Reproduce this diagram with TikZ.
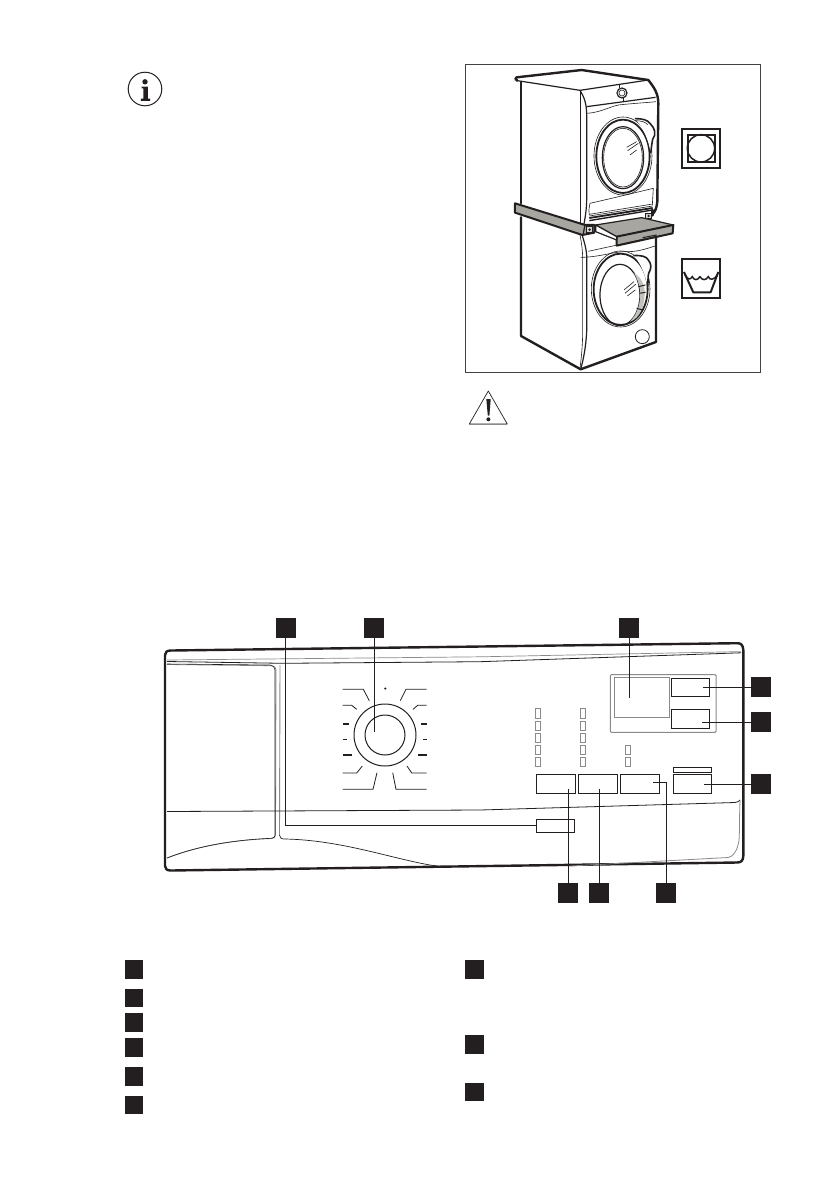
\documentclass[tikz,border=0pt]{standalone}
\definecolor{ink}{HTML}{231F20}
\definecolor{shelf}{HTML}{A8A6A0}
\definecolor{led}{HTML}{8A8A88}
\tikzset{
  x=1pt,y=-1pt,
  numbox/.style={fill=ink,draw=none,minimum size=20pt,inner sep=0pt,outer sep=0pt},
  legbox/.style={fill=ink,draw=none,minimum size=18.5pt,inner sep=0pt,outer sep=0pt},
  lead/.style={draw=ink,line width=0.9pt},
  btn/.style={draw=ink,line width=0.9pt},
  heavy/.style={draw=ink,line width=2.4pt,line join=round,line cap=round},
  med/.style={draw=ink,line width=1.2pt,line join=round},
  fine/.style={draw=ink,line width=0.6pt,line join=round},
  greyl/.style={draw=led,line width=0.8pt},
  mark1/.style={draw=ink,line width=0.8pt},
  mark2/.style={draw=ink,line width=1.4pt},
}
\begin{document}
\begin{tikzpicture}
\useasboundingbox[fill=white] (0,0) rectangle (840,1192);

% info icon
\draw[ink,line width=1pt] (145,89) circle (16.8);
\fill[ink] (145,81.8) circle (2.7);
\fill[ink] (141.5,86.5) -- (147.8,86.5) -- (147.8,98.5) -- (150,98.5) -- (150,100.8) -- (140.8,100.8) -- (140.8,98.5) -- (143.4,98.5) -- (143.4,88.4) -- (141.5,88.4) -- cycle;

% warning icon
\draw[ink,line width=0.7pt,line join=round] (488.3,391) -- (469.3,424) -- (507.3,424) -- cycle;
\draw[led,line width=1.6pt] (469.3,424.6) -- (507.3,424.6);
\fill[ink] (486.3,399) -- (490.7,399) -- (489.4,415.5) -- (487.8,415.5) -- cycle;
\fill[ink] (488.4,419.3) circle (2);

% photo frame
\draw[draw=ink!85,line width=0.9pt] (465.7,64.3) rectangle (760.3,372.3);

\begin{scope}[shift={(460,60)},x=0.3333pt,y=-0.3333pt]
  % dryer body
  \draw[heavy] (183,66) -- (183,430);
  \draw[heavy] (172,62) .. controls (165,60) and (164,54) .. (170,52) -- (365,30) -- (565,60) .. controls (582,82) and (595,100) .. (595,130) -- (592,425) .. controls (590,445) and (585,455) .. (578,462);
  \draw[med] (172,62) -- (360,91);
  \draw[med] (360,91) -- (565,60);
  \draw[fine] (360,91) -- (360,490);
  \draw[med] (360,91) .. controls (372,110) and (380,130) .. (380,165) -- (380,420) .. controls (380,445) and (376,470) .. (372,492);
  % control band
  \draw[med] (380,140) -- (587,112);
  \draw[fine] (380,160) .. controls (420,158) and (450,140) .. (475,135) .. controls (520,130) and (560,128) .. (588,125);
  % knob
  \draw[med] (486,99) circle (15);
  \draw[fine] (486,99) circle (9);
  \draw[fine] (478,72) -- (478,84);
  \draw[fine] (490,114) -- (490,125);
  % dryer door
  \draw[fine] (489,288) ellipse [x radius=87,y radius=117];
  \draw[ink,line width=1.8pt] (489,289) ellipse [x radius=80,y radius=110];
  \draw[med] (489,293) ellipse [x radius=62,y radius=93];
  \draw[fine] (489,293) ellipse [x radius=58,y radius=88];
  \fill[white] (525,176) .. controls (550,176) and (562,180) .. (570,190) .. controls (585,205) and (590,222) .. (578,238) .. controls (575,250) and (575,260) .. (572,280) .. controls (566,235) and (545,195) .. (525,176) -- cycle;
  \draw[ink,line width=1.6pt] (525,176) .. controls (550,176) and (562,180) .. (570,190) .. controls (585,205) and (590,222) .. (578,238) .. controls (575,250) and (575,260) .. (572,280);
  \draw[fine] (525,182) .. controls (545,182) and (556,186) .. (563,194);
  \draw[fine] (500,262) -- (530,245);
  \draw[fine] (503,272) -- (535,250);
  \draw[fine] (510,285) -- (530,270);
  % lower dryer panel
  \draw[fine] (390,430) .. controls (386,450) and (386,455) .. (388,465);
  \draw[fine] (390,430) -- (455,415) -- (580,385) -- (577,435);
  \draw[ink,line width=0.6pt] (388,463) -- (578,432);
  \draw[ink,line width=0.6pt] (388,468) -- (578,438);
  \draw[ink,line width=1.8pt] (388,474) -- (578,444);
  \draw[ink,line width=1.4pt] (388,482) -- (578,450);
  \draw[heavy] (578,450) -- (578,466);
  % shelf left rail
  \filldraw[fill=shelf,draw=ink,line width=2pt,line join=round] (165,430) -- (375,495) -- (403,495) -- (403,518) -- (367,525) -- (165,458) -- cycle;
  \draw[ink,line width=1.2pt] (375,495) -- (369,525);
  \filldraw[fill=shelf!50,draw=ink,line width=1pt] (380,500) rectangle (398,518);
  \fill[ink] (389,509) circle (4);
  \filldraw[fill=shelf!50,draw=ink,line width=1pt] (556,460) rectangle (576,476);
  \fill[ink] (566,468) circle (4);
  % pull-out shelf
  \filldraw[fill=shelf,draw=ink,line width=1.2pt,line join=round] (407,495) -- (545,473) -- (640,495) -- (470,530) -- cycle;
  \filldraw[fill=shelf,draw=ink,line width=2pt,line join=round] (470,530) -- (640,495) -- (638,520) -- (470,557) -- cycle;
  \filldraw[fill=white,draw=ink,line width=1.2pt,line join=round] (407,495) -- (407,515) -- (470,540) -- (470,530) -- cycle;
  \draw[ink,line width=1pt] (548,533) -- (590,525);
  % washer body
  \draw[heavy] (183,472) -- (183,828) -- (362,928) -- (588,846) -- (588,530);
  \draw[med] (367,527) .. controls (372,545) and (378,560) .. (380,585) -- (380,815) .. controls (378,860) and (370,900) .. (362,928);
  \draw[fine] (360,525) .. controls (364,545) and (368,570) .. (368,595) -- (368,825) .. controls (367,870) and (363,900) .. (360,925);
  \draw[fine] (385,574) -- (586,530);
  \draw[fine] (362,592) .. controls (420,592) and (470,572) .. (505,575) .. controls (540,575) and (570,562) .. (586,558);
  % washer door
  \draw[fine] (482,687) ellipse [x radius=88,y radius=114];
  \draw[ink,line width=1.8pt] (482,688) ellipse [x radius=81,y radius=107];
  \draw[med] (480,705) ellipse [x radius=60,y radius=92];
  \fill[shelf!70] (522,640) .. controls (535,660) and (543,690) .. (540,715) .. controls (538,745) and (525,770) .. (510,785) .. controls (540,775) and (552,740) .. (554,705) .. controls (556,680) and (545,650) .. (522,640) -- cycle;
  \draw[ink,line width=1pt] (535,680) -- (556,675);
  \draw[ink,line width=1pt] (538,700) -- (557,697);
  \draw[ink,line width=1pt] (530,745) -- (548,750);
  \fill[white] (520,587) .. controls (545,585) and (560,590) .. (565,600) .. controls (575,612) and (575,625) .. (566,640) .. controls (563,650) and (565,665) .. (563,680) .. controls (555,640) and (540,605) .. (520,587) -- cycle;
  \draw[ink,line width=1.6pt] (520,587) .. controls (545,585) and (560,590) .. (565,600) .. controls (575,612) and (575,625) .. (566,640) .. controls (563,650) and (565,665) .. (563,680);
  \draw[fine] (492,690) -- (522,665);
  \draw[fine] (495,700) -- (528,672);
  \draw[fine] (502,708) -- (526,690);
  % washer foot circle
  \draw[ink,line width=0.8pt] (547,830) circle (21);
  % dry symbol
  \draw[ink,line width=2pt] (665,206) rectangle (781,325);
  \draw[ink,line width=2pt] (683,224) rectangle (764,306);
  \draw[ink,line width=1.5pt] (723,265) circle (41);
  % wash symbol
  \draw[ink,line width=2pt] (665,596) rectangle (781,715);
  \draw[ink,line width=2pt,line join=round] (672,636) -- (700,697) -- (752,697) -- (775,636);
  \draw[ink,line width=1.5pt] (675,645) .. controls (685,660) and (690,660) .. (697,650) .. controls (703,662) and (712,662) .. (720,650) .. controls (727,662) and (738,662) .. (745,650) .. controls (750,662) and (762,660) .. (772,645);
\end{scope}

% control panel
\draw[heavy] (171,650.5) -- (737,643.2) .. controls (741,643) and (743,645) .. (743.3,650) -- (743.3,856) .. controls (743,861) and (741,862.5) .. (737,862.5) -- (171,870.5) .. controls (167,870.5) and (165,869) .. (165,866) -- (165,655) .. controls (165,652) and (167,650.5) .. (171,650.5) -- cycle;
\draw[led,line width=0.7pt] (167,660) -- (480,656.8) -- (741,651.6);
\draw[ink,line width=0.8pt] (167,661.5) -- (283,663.3) -- (480,661.7) -- (741,652.8);
% dispenser drawer
\draw[led,line width=0.8pt] (167,664.5) -- (272,665.7) .. controls (275,666) and (276,668) .. (276,670) -- (275.5,835) .. controls (275.5,837) and (274.5,838) .. (272,838.5) .. controls (230,840) and (195,847) .. (167,858);
\draw[ink,line width=0.6pt] (167,664) -- (270,665) .. controls (273,665.3) and (275,667) .. (275,670) -- (275,835) .. controls (275,837) and (274,838) .. (271.5,838.3) .. controls (230,840) and (195,847) .. (167,858);
\draw[led,line width=0.9pt] (280,665) -- (279.5,835);
\draw[ink,line width=0.7pt] (279.5,835) .. controls (280,838) and (281,839) .. (285,839) .. controls (340,840) and (390,858) .. (430,865) .. controls (437,866) and (442,866.7) .. (450,866.7);
\draw[ink,line width=0.8pt] (167,811.5) -- (480,810) -- (735,802.5) .. controls (738,802) and (739,801.5) .. (740,800);
\draw[led,line width=0.8pt] (740,800) .. controls (739,830) and (740,840) .. (738,845) .. controls (736,853) and (732,857) .. (728,857.5) -- (570,866);

% knob
\draw[ink,line width=1pt] (385,735) circle (31);
\draw[ink,line width=1pt] (385,735) circle (20);
\fill[ink] (385.3,688.5) circle (1.2);
\draw[mark1] (342.7,689.3) -- (363.3,689.3) -- (369.3,700.7);
\draw[mark1] (342.7,705.3) -- (351.7,705.3) -- (356.7,709.3);
\draw[mark2] (342.7,724) -- (349,724);
\draw[mark1] (342.7,739.3) -- (346.7,739.3);
\draw[mark2] (342.7,755) -- (351.7,755);
\draw[mark1] (342.7,773) -- (356.7,773) -- (362.3,766);
\draw[mark1] (342.7,789.3) -- (373,789.3) -- (377,772.7);
\draw[mark1] (426.7,689.3) -- (406,689.3) -- (400.3,700.7);
\draw[mark1] (426.7,705.3) -- (417.7,705.3) -- (413,709.3);
\draw[mark2] (421,724) -- (426.7,724);
\draw[mark1] (423.3,739.3) -- (426.7,739.3);
\draw[mark2] (418.3,755) -- (426.7,755);
\draw[mark1] (426.7,773) -- (411.7,773) -- (407,766);
\draw[mark1] (426.7,789.3) -- (396,789.3) -- (392.7,772.7);

% display cluster
\draw[led,line width=1pt,rounded corners=1pt] (610.3,674.7) rectangle (716,732.3);
\draw[led,line width=1pt] (614.3,677.7) rectangle (669,717.7);
\node[btn,inner sep=0,outer sep=0,minimum width=38.4pt,minimum height=18pt] (timeA) at (690.5,687.3) {};
\node[btn,inner sep=0,outer sep=0,minimum width=38.4pt,minimum height=19pt] (timeB) at (690.5,718.8) {};
\coordinate (dispP) at (629,697.7);

% LEDs
\foreach \cx in {538.3,583.2}{
  \foreach \cy in {713.5,725.7,737.6,749.6,761.8}{
    \draw[led,line width=0.8pt] (\cx-2.5,\cy-4.7) rectangle (\cx+2.5,\cy+4.7);
  }
}
\foreach \cy in {749.6,761.8}{
  \draw[led,line width=0.8pt] (625.7,\cy-4.7) rectangle (630.7,\cy+4.7);
}

% buttons
\node[btn,inner sep=0,outer sep=0,minimum width=39.4pt,minimum height=19.3pt] (btnA) at (556,783.7) {};
\node[btn,inner sep=0,outer sep=0,minimum width=39.4pt,minimum height=19.3pt] (btnB) at (598,783.7) {};
\node[btn,inner sep=0,outer sep=0,minimum width=39.4pt,minimum height=19.3pt] (btnC) at (640,783.7) {};
\node[btn,inner sep=0,outer sep=0,minimum width=38.4pt,minimum height=19.3pt] (btnD) at (692.5,783.7) {};
\node[btn,inner sep=0,outer sep=0,minimum width=38.4pt,minimum height=5.3pt] (btnBar) at (692.5,769.7) {};
\node[btn,inner sep=0,outer sep=0,minimum width=38pt,minimum height=13pt] (slot) at (555.7,825.8) {};

% numbered boxes
\node[numbox] (n1) at (285.7,628) {};
\node[numbox] (n2) at (374,628) {};
\node[numbox] (n3) at (629,628) {};
\node[numbox] (n4) at (761,687) {};
\node[numbox] (n5) at (761,722) {};
\node[numbox] (n6) at (761,784) {};
\node[numbox] (n7) at (568,893) {};
\node[numbox] (n8) at (599,893) {};
\node[numbox] (n9) at (666,893) {};

% leaders
\coordinate (knobP) at (374,731.7);
\coordinate (aP) at (703.3,687);
\coordinate (bP) at (701.7,722);
\coordinate (dP) at (704,784);
\coordinate (cP) at (653.3,782.3);
\coordinate (p7) at (568,789);
\coordinate (p8) at (599,789);
\draw[lead] (n1.south) |- (slot.west);
\draw[lead] (n2.south) -- (knobP);
\draw[lead] (n3.south) -- (dispP);
\draw[lead] (n4.west) -- (aP);
\draw[lead] (n5.west) -- (bP);
\draw[lead] (n6.west) -- (dP);
\draw[lead] (n7.north) -- (p7);
\draw[lead] (n8.north) -- (p8);
\draw[lead] (n9.north) |- (cP);

% legend boxes
\foreach \y/\n in {969.5/a,998/b,1022.5/c,1047.5/d,1076.5/e,1105/f}{
  \node[legbox] (l\n) at (134,\y) {};
}
\foreach \y/\n in {969.5/g,1044.5/h,1092/i}{
  \node[legbox] (l\n) at (474.5,\y) {};
}
\end{tikzpicture}
\end{document}
